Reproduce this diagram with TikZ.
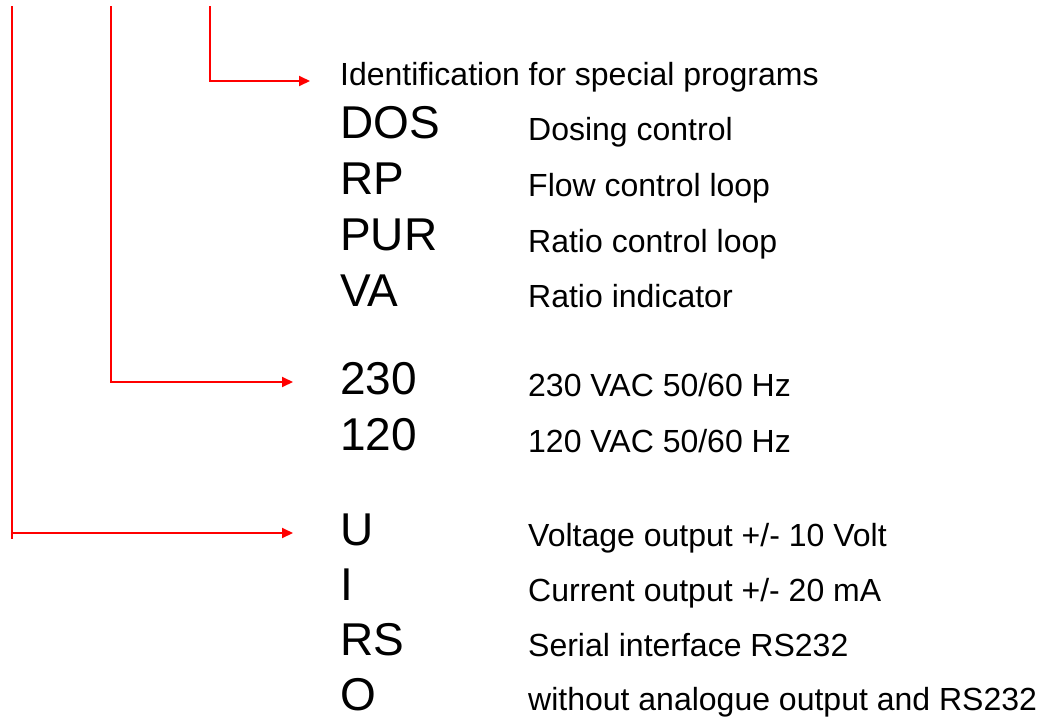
\documentclass[tikz,border=0pt]{standalone}
\usepackage{fontspec}
\setmainfont{Liberation Sans}
\usetikzlibrary{arrows.meta}

\tikzset{
    redline/.style={red, line width=2pt},
    codetext/.style={anchor=base west, inner sep=0pt, font=\fontsize{46}{50}\selectfont},
    desctext/.style={anchor=base west, inner sep=0pt, font=\fontsize{32}{36}\selectfont},
}

\begin{document}
\begin{tikzpicture}[x=1pt, y=-1pt, >={Triangle[length=11pt, width=10pt]}]
    \useasboundingbox (0,0) rectangle (1047,720);

    % heading of the program block
    \node[desctext] (ident) at (340,85) {Identification for special programs};

    % special programs
    \node[codetext] (cDOS) at (340,138) {DOS};
    \node[desctext] (dDOS) at (528,140) {Dosing control};
    \node[codetext] (cRP)  at (340,194) {RP};
    \node[desctext] (dRP)  at (528,196) {Flow control loop};
    \node[codetext] (cPUR) at (340,250) {PUR};
    \node[desctext] (dPUR) at (528,252) {Ratio control loop};
    \node[codetext] (cVA)  at (340,306) {VA};
    \node[desctext] (dVA)  at (528,307) {Ratio indicator};

    % supply voltage
    \node[codetext] (c230) at (340,394) {230};
    \node[desctext] (d230) at (528,396) {230 VAC 50/60 Hz};
    \node[codetext] (c120) at (340,450) {120};
    \node[desctext] (d120) at (528,452) {120 VAC 50/60 Hz};

    % outputs
    \node[codetext] (cU)  at (340,545) {U};
    \node[desctext] (dU)  at (528,546) {Voltage output +/- 10 Volt};
    \node[codetext] (cI)  at (340,600) {I};
    \node[desctext] (dI)  at (528,601) {Current output +/- 20 mA};
    \node[codetext] (cRS) at (340,655) {RS};
    \node[desctext] (dRS) at (528,656) {Serial interface RS232};
    \node[codetext] (cO)  at (340,710) {O};
    \node[desctext] (dO)  at (528,710) {without analogue output and RS232};

    % free ends of the red leaders
    \coordinate (top1) at (12,6);
    \coordinate (bot1) at (12,539);
    \coordinate (tip1) at (293,533);
    \coordinate (top2) at (111,6);
    \coordinate (tip2) at (293,382);
    \coordinate (top3) at (210,6);
    \coordinate (tip3) at (310,81);

    % red leaders with arrows
    \draw[redline] (top1) -- (bot1);
    \draw[redline, ->] (top1 |- tip1) -- (tip1);
    \draw[redline, ->] (top2) |- (tip2);
    \draw[redline, ->] (top3) |- (tip3);
\end{tikzpicture}
\end{document}
